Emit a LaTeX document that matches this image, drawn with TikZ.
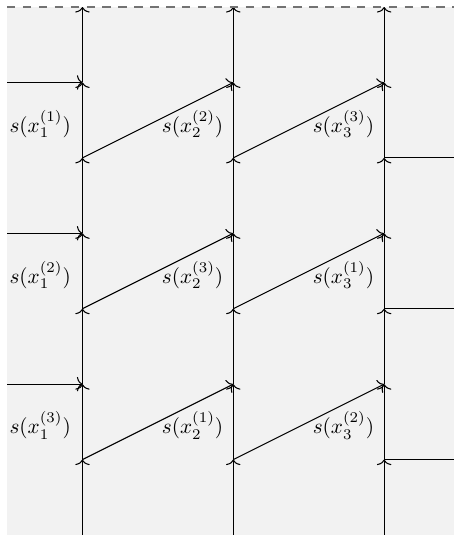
\documentclass[tikz,border=0pt]{standalone}
\usepackage{tikz}
\usetikzlibrary{positioning,arrows.meta}
\begin{document}
\begin{tikzpicture}[x=1.25cm,y=1.25cm,
  wire/.style={-{To[length=2.6pt,width=6.8pt]},line width=0.5pt},
  lbl/.style={inner sep=1pt},
  bound/.style={black!55,dash pattern=on 4pt off 3.5pt,line width=0.9pt}
]
\useasboundingbox (-0.093,0.093) rectangle (5.92,-7);
\fill[gray!10] (0,0) rectangle (5.92,-7);
% grid points: column c, level k
\foreach \c/\x in {1/1,2/3,3/5}
  \foreach \k in {0,...,7}
    \coordinate (p\c-\k) at (\x,-\k);
\coordinate (tl) at (0,0);
\coordinate (tr) at (5.92,0);
\foreach \k in {1,3,5}
  \coordinate (in\k) at (0,-\k);
\foreach \k in {2,4,6}
  \coordinate (out\k) at (5.92,-\k);
% time lines
\foreach \c in {1,2,3}
  \foreach \k [count=\j] in {0,...,6}
    \draw[wire] (p\c-\j) -- (p\c-\k);
% inputs, outputs
\foreach \k in {1,3,5}
  \draw[wire] (in\k) -- (p1-\k);
\foreach \k in {2,4,6}
  \draw[line width=0.5pt] (p3-\k) -- (out\k);
% messages
\foreach \k [evaluate=\k as \j using int(\k+1)] in {1,3,5} {
  \draw[wire] (p1-\j) -- (p2-\k);
  \draw[wire] (p2-\j) -- (p3-\k);
}
\foreach \r/\a/\b/\y in {1/2/3/-1.55,2/3/1/-3.55,3/1/2/-5.55} {
  \node[lbl] (sa\r) at (0.44,\y) {$s(x_1^{(\r)})$};
  \node[lbl] (sb\r) at (2.46,\y) {$s(x_2^{(\a)})$};
  \node[lbl] (sc\r) at (4.46,\y) {$s(x_3^{(\b)})$};
}
\draw[bound] (tl) -- (tr);
\end{tikzpicture}
\end{document}
